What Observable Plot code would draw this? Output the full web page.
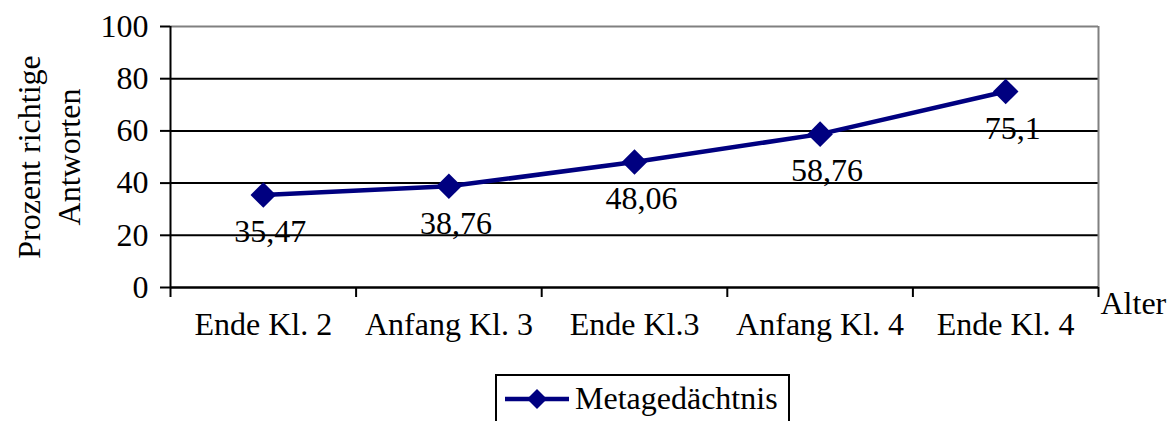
<!DOCTYPE html>
<html>
<head>
<meta charset="utf-8">
<script src="https://cdn.jsdelivr.net/npm/d3@7"></script>
<script src="https://cdn.jsdelivr.net/npm/@observablehq/plot@0.6"></script>
<style>
  html, body { margin: 0; padding: 0; background: #fff; }
  #chart { width: 1173px; }
  #chart svg.main { display: block; }
  .legend {
    margin: 14px 0 0 495px;
    width: 291px; height: 60px;
    position: relative;
    border: 2px solid #000; border-bottom: none;
    font-family: "Liberation Serif", "Times New Roman", serif;
    font-size: 32px; color: #000;
  }
  .legend svg { position: absolute; left: 6px; top: 10px; }
  .legend span { position: absolute; left: 78px; top: 4px; white-space: nowrap; }
</style>
</head>
<body>
<div id="chart"></div>
<script>
// Categories (school stage) and the share of correct answers in percent
const categories = ["Ende Kl. 2", "Anfang Kl. 3", "Ende Kl.3", "Anfang Kl. 4", "Ende Kl. 4"];
const values = [35.47, 38.76, 48.06, 58.76, 75.1];
const valueLabels = ["35,47", "38,76", "48,06", "58,76", "75,1"];
const yTicks = [0, 20, 40, 60, 80, 100];
const seriesName = "Metagedächtnis";
const yLabel = "Prozent richtige\nAntworten";
const xLabel = "Alter";

const navy = "#000080";
const fs = 32;
const data = categories.map((c, i) => ({pos: i + 0.5, category: c, value: values[i], label: valueLabels[i]}));
const n = categories.length;
const bounds = d3.range(n + 1);

const chart = Plot.plot({
  width: 1173,
  height: 360,
  marginLeft: 170,
  marginRight: 75,
  marginTop: 26,
  marginBottom: 73,
  style: {fontFamily: "'Liberation Serif', 'Times New Roman', serif", fontSize: fs + "px", color: "#000", background: "#fff", overflow: "visible"},
  x: {type: "linear", domain: [0, n]},
  y: {domain: [0, 100]},
  marks: [
    Plot.gridY([20, 40, 60, 80], {stroke: "#000", strokeOpacity: 1, strokeWidth: 2}),
    Plot.ruleY([100], {stroke: "#808080", strokeWidth: 2}),
    Plot.ruleX([n], {stroke: "#808080", strokeWidth: 2}),
    // y axis with outward ticks
    Plot.axisY(yTicks, {tickSize: 10, tickPadding: 12, strokeWidth: 2, label: null, fontSize: fs}),
    // boundary ticks between categories
    Plot.axisX(bounds, {tickSize: 10, strokeWidth: 2, tickFormat: () => "", label: null}),
    // category names at band centres
    Plot.axisX(data.map(d => d.pos), {tickSize: 0, tickPadding: 25, tickFormat: (d) => categories[Math.round(d - 0.5)], label: null, fontSize: fs}),
    Plot.ruleX([0], {stroke: "#000", strokeWidth: 2}),
    Plot.ruleY([0], {stroke: "#000", strokeWidth: 2.5}),
    Plot.text([xLabel], {frameAnchor: "bottom-right", textAnchor: "start", lineAnchor: "bottom", dx: 2, dy: 26, fontSize: fs}),
    Plot.text([yLabel], {frameAnchor: "left", textAnchor: "middle", lineAnchor: "middle", rotate: -90, dx: -123, lineHeight: 1.25, fontSize: fs}),
    Plot.line(data, {x: "pos", y: "value", stroke: navy, strokeWidth: 4.5}),
    Plot.dot(data, {x: "pos", y: "value", symbol: "diamond2", r: 11.5, fill: navy, stroke: "none"}),
    Plot.text(data, {x: "pos", y: "value", text: "label", dx: 7, dy: 37, fontSize: fs, fill: "#000"})
  ]
});
chart.classList.add("main");
document.getElementById("chart").appendChild(chart);

// Legend box below the chart
const legend = document.createElement("div");
legend.className = "legend";
legend.innerHTML = `<svg width="70" height="30"><line x1="2" y1="13" x2="66" y2="13" stroke="${navy}" stroke-width="4.5"/><path d="M34,3 L44,13 L34,23 L24,13 Z" fill="${navy}"/></svg><span>${seriesName}</span>`;
document.getElementById("chart").appendChild(legend);
</script>
</body>
</html>
